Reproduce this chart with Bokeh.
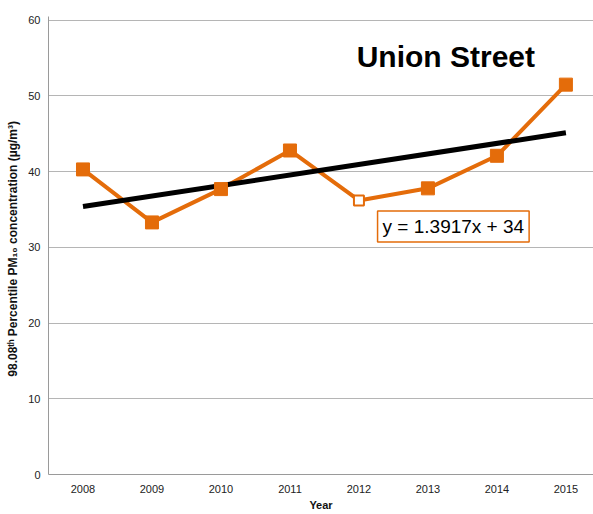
from bokeh.plotting import figure
from bokeh.models import Label, FixedTicker, Range1d
from bokeh.embed import file_html
from bokeh.resources import INLINE

years = [2008, 2009, 2010, 2011, 2012, 2013, 2014, 2015]
pm10 = [40.3, 33.3, 37.7, 42.8, 36.2, 37.8, 42.1, 51.5]
hollow_year = [2012]
hollow_value = [36.2]
trend_slope = 1.3917
trend_intercept = 34.0
y_ticks = [0, 10, 20, 30, 40, 50, 60]

ORANGE = "#E46C0A"
FONT = "Liberation Sans"

trend_x = [years[0], years[-1]]
trend_y = [trend_slope * 1 + trend_intercept, trend_slope * len(years) + trend_intercept]

p = figure(width=593, height=514, output_backend="svg", toolbar_location=None,
           x_range=Range1d(2007.5, 2015.4), y_range=Range1d(0, 60.5),
           min_border_left=48, min_border_right=0, min_border_top=16, min_border_bottom=40)
p.outline_line_color = None
p.background_fill_color = "white"
p.border_fill_color = "white"

p.xgrid.grid_line_color = None
p.ygrid.grid_line_color = "#b5b5b5"
p.ygrid.grid_line_width = 1
p.yaxis.ticker = FixedTicker(ticks=y_ticks)
p.xaxis.ticker = FixedTicker(ticks=years)

for ax in (p.xaxis, p.yaxis):
    ax.axis_line_color = "#9a9a9a"
    ax.axis_line_width = 1
    ax.major_tick_line_color = None
    ax.major_tick_out = 0
    ax.major_tick_in = 0
    ax.minor_tick_line_color = None
    ax.minor_tick_out = 0
    ax.minor_tick_in = 0
    ax.major_label_text_font = FONT
    ax.major_label_text_font_size = "11px"
    ax.major_label_text_color = "#222222"
    ax.axis_label_text_font = FONT
    ax.axis_label_text_font_style = "bold"
    ax.axis_label_text_color = "#111111"

p.xaxis.major_label_standoff = 10
p.yaxis.major_label_standoff = 8
p.xaxis.axis_label = "Year"
p.xaxis.axis_label_text_font_size = "11px"
p.xaxis.axis_label_standoff = 3
p.yaxis.axis_label = "98.08ᵗʰ Percentile  PM₁₀  concentration (µg/m³)"
p.yaxis.axis_label_text_font_size = "12px"
p.yaxis.axis_label_standoff = 5

p.line(years, pm10, line_color=ORANGE, line_width=4)
p.line(trend_x, trend_y, line_color="black", line_width=5)
solid_x = [x for x in years if x not in hollow_year]
solid_y = [v for x, v in zip(years, pm10) if x not in hollow_year]
p.scatter(solid_x, solid_y, marker="square", size=13, fill_color=ORANGE, line_color=ORANGE)
p.scatter(hollow_year, hollow_value, marker="square", size=10, fill_color="white",
          line_color=ORANGE, line_width=2)

title = Label(x=2013.26, y=55.2, text="Union Street",
              text_font=FONT, text_font_style="bold", text_font_size="30px",
              text_color="black", text_align="center", text_baseline="middle")
p.add_layout(title)

eq = Label(x=2012.27, y=32.77, text="y = 1.3917x + 34", text_font=FONT,
           text_font_size="19px", text_color="black", text_baseline="middle",
           border_line_color=ORANGE, border_line_width=1.5,
           background_fill_color="white", padding=5)
p.add_layout(eq)

open("out.html", "w").write(file_html(p, INLINE))
